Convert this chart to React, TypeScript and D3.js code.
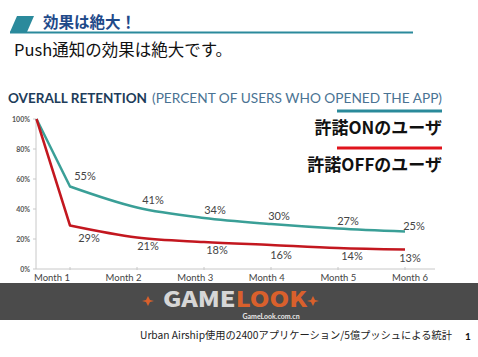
import React from "react";
import * as d3 from "d3";

const months = ["Month 1", "Month 2", "Month 3", "Month 4", "Month 5", "Month 6"];
const steps = [0.5, 1, 2, 3, 4, 5, 6];
const onValues = [100, 55, 41, 34, 30, 27, 25];
const offValues = [100, 29, 21, 18, 16, 14, 13];
const yTicks = [0, 20, 40, 60, 80, 100];

const W = 478;
const H = 357;
const TEAL = "#3a9f97";
const RED = "#c3171f";
const JP = "'Noto Sans CJK JP', 'Noto Sans', sans-serif";
const LAT = "Lato, 'Noto Sans', sans-serif";

export default function App() {
  const x = d3.scaleLinear().domain([1, 6]).range([70, 405]);
  const y = d3.scaleLinear().domain([0, 100]).range([269, 119]);
  const xl = d3.scalePoint<string>().domain(months).range([52, 410]);

  const makePath = (vals: number[]) => {
    const pts: [number, number][] = vals.map((v, i) => [x(steps[i]), y(v)]);
    const lin = d3.line().curve(d3.curveLinear)(pts.slice(0, 2)) || "";
    const mono = d3.line().curve(d3.curveMonotoneX)(pts.slice(1)) || "";
    return lin + mono.replace(/^M/, "L");
  };

  const onLabelOffsets = [
    [0, 0], [15, -7], [16, -4], [11, -4], [8, -4], [10, -4], [9, -2],
  ];
  const offLabelOffsets = [
    [0, 0], [19, 16], [11, 12], [13, 12], [10, 14], [14, 12], [5, 12],
  ];

  return (
    <svg
      width={W}
      height={H}
      style={{ position: "absolute", left: 0, top: 0, background: "#fff" }}
    >
      <rect x={0} y={0} width={W} height={H} fill="#fff" />
      {/* Header */}
      <polygon points="10,32 17,16 34,16 27,32" fill="#2b8a9c" />
      <line x1={10} x2={413} y1={32.5} y2={32.5} stroke="#2b8a9c" strokeWidth={2} />
      <text x={43} y={28} fontFamily={JP} fontWeight={700} fontSize={15.5} fill="#1f4a8a">
        効果は絶大！
      </text>
      <text x={14} y={56} fontFamily={JP} fontSize={16.5} fill="#111">
        Push通知の効果は絶大です。
      </text>

      {/* Chart title */}
      <text x={8} y={103} fontFamily={LAT} fontWeight={700} fontSize={13} fill="#1d3c5a" textLength={139} lengthAdjust="spacingAndGlyphs">
        OVERALL RETENTION
      </text>
      <text x={152} y={103} fontFamily={LAT} fontSize={13} fill="#4a7393" textLength={290} lengthAdjust="spacingAndGlyphs">
        (PERCENT OF USERS WHO OPENED THE APP)
      </text>

      {/* Axes */}
      <line x1={36} x2={36} y1={y(100)} y2={y(0)} stroke="#c8c8c8" strokeWidth={1} />
      <line x1={36} x2={435} y1={y(0)} y2={y(0)} stroke="#c8c8c8" strokeWidth={1} />
      {yTicks.map((t) => (
        <g key={t}>
          <line x1={33} x2={36} y1={y(t)} y2={y(t)} stroke="#c8c8c8" />
          <text x={30} y={y(t) + 2.5} textAnchor="end" fontFamily={LAT} fontSize={7} fontWeight={700} fill="#555">
            {t}%
          </text>
        </g>
      ))}
      {steps.slice(1).map((s) => (
        <line key={s} x1={x(s)} x2={x(s)} y1={y(0) - 2} y2={y(0) + 1} stroke="#c8c8c8" />
      ))}
      {months.map((m) => (
        <text key={m} x={xl(m)} y={281} textAnchor="middle" fontFamily={LAT} fontSize={9.5} fill="#444">
          {m}
        </text>
      ))}

      {/* Lines */}
      <path d={makePath(onValues)} fill="none" stroke={TEAL} strokeWidth={2.5} strokeLinejoin="round" />
      <path d={makePath(offValues)} fill="none" stroke={RED} strokeWidth={2.5} strokeLinejoin="round" />

      {/* Data labels */}
      {onValues.map((v, i) =>
        i === 0 ? null : (
          <text key={"on" + i} x={x(steps[i]) + onLabelOffsets[i][0]} y={y(v) + onLabelOffsets[i][1]} textAnchor="middle" fontFamily={LAT} fontSize={11} fill="#444">
            {v}%
          </text>
        )
      )}
      {offValues.map((v, i) =>
        i === 0 ? null : (
          <text key={"off" + i} x={x(steps[i]) + offLabelOffsets[i][0]} y={y(v) + offLabelOffsets[i][1]} textAnchor="middle" fontFamily={LAT} fontSize={11} fill="#444">
            {v}%
          </text>
        )
      )}

      {/* Legend */}
      <line x1={337} x2={442} y1={111} y2={111} stroke="#2a8a9a" strokeWidth={3} />
      <text x={442} y={134} textAnchor="end" fontFamily={JP} fontWeight={700} fontSize={17} fill="#111">
        許諾ONのユーザ
      </text>
      <line x1={337} x2={442} y1={148} y2={148} stroke="#e0141c" strokeWidth={3} />
      <text x={442} y={171} textAnchor="end" fontFamily={JP} fontWeight={700} fontSize={17} fill="#111">
        許諾OFFのユーザ
      </text>

      {/* Watermark band */}
      <rect x={0} y={283} width={W} height={37} fill="#4b4b4b" />
      <polygon points="148,296 150,300 154,301 150,302 148,306 146,302 142,301 146,300" fill="#d9602c" />
      <polygon points="313,296 315,300 319,301 315,302 313,306 311,302 307,301 311,300" fill="#d9602c" />
      <text x={163} y={307} fontFamily={JP} fontWeight={900} fontSize={21} textLength={144} lengthAdjust="spacingAndGlyphs">
        <tspan fill="#d6d6d6">GAME</tspan>
        <tspan fill="#d9602c">LOOK</tspan>
      </text>
      <text x={271} y={318.5} textAnchor="middle" fontFamily={LAT} fontWeight={700} fontSize={7} fill="#e8e8e8">
        GameLook.com.cn
      </text>

      {/* Footer */}
      <text x={140} y={339} fontFamily={JP} fontSize={10.5} fill="#222" textLength={312} lengthAdjust="spacingAndGlyphs">
        Urban Airship使用の2400アプリケーション/5億プッシュによる統計
      </text>
      <text x={468} y={340} textAnchor="middle" fontFamily={LAT} fontWeight={700} fontSize={10} fill="#111">
        1
      </text>
    </svg>
  );
}
